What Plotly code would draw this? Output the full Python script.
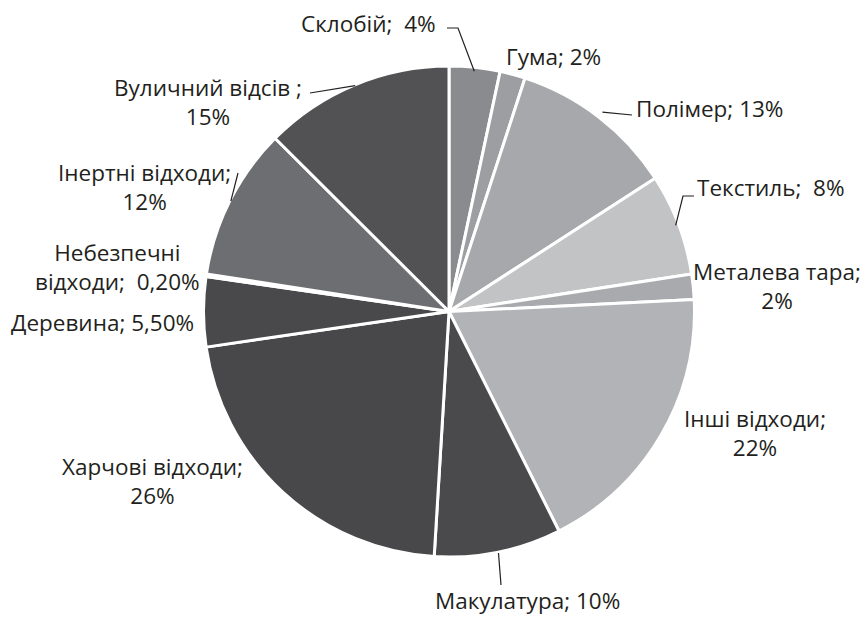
import math
import plotly.graph_objects as go

# ---- data ----
categories = ["Склобій", "Гума", "Полімер", "Текстиль", "Металева тара",
              "Інші відходи", "Макулатура", "Харчові відходи", "Деревина",
              "Небезпечні відходи", "Інертні відходи", "Вуличний відсів"]
values = [4, 2, 13, 8, 2, 22, 10, 26, 5.5, 0.2, 12, 15]
label_texts = ["Склобій;  4%", "Гума; 2%", "Полімер; 13%", "Текстиль;  8%",
               "Металева тара;<br>2%", "Інші відходи;<br>22%", "Макулатура; 10%",
               "Харчові відходи;<br>26%", "Деревина; 5,50%",
               "Небезпечні<br>відходи;  0,20%", "Інертні відходи;<br>12%",
               "Вуличний відсів ;<br>15%"]

# ---- style ----
colors = ["#8a8b8e", "#9d9ea1", "#a7a8ab", "#c2c3c5", "#a9aaad", "#b2b3b6",
          "#4a4a4c", "#48484a", "#49494b", "#bcbdc0", "#6d6e71", "#525254"]
W, H = 862, 620
CX, CY, R = 449, 311.5, 243.5
R_DOMAIN = 245.5
# label centre positions (px)
label_pos = [(368, 23), (553, 56), (709, 108), (771, 187), (777, 286),
             (755, 433), (527, 600), (152, 481), (102, 322), (117, 267),
             (144, 187), (208, 102)]
# leader lines: index -> list of (px) points after slice-edge point
leaders = {0: [(458, 28), (447, 28)],
           2: [(632, 115)],
           3: [(683, 196), (694, 196)],
           6: [(501, 585)],
           10: [(238, 173)],
           11: [(310, 93)]}
leader_gap = {0: -2, 2: 8, 3: -1, 6: 3, 10: 1, 11: 1}

total = sum(values)
def edge_point(i, extra):
    before = sum(values[:i])
    ang = (before + values[i] / 2) / total * 2 * math.pi
    r = R + extra
    return (CX + r * math.sin(ang), CY - r * math.cos(ang))

def px(x):
    return x / W
def py(y):
    return 1 - y / H

fig = go.Figure(go.Pie(
    labels=categories, values=values, sort=False, direction="clockwise",
    rotation=0, textinfo="none", hoverinfo="label+value",
    marker=dict(colors=colors, line=dict(color="white", width=3)),
    domain=dict(x=[px(CX - R_DOMAIN), px(CX + R_DOMAIN)],
                y=[py(CY + R_DOMAIN), py(CY - R_DOMAIN)]),
    showlegend=False,
))

for i, t in enumerate(label_texts):
    x, y = label_pos[i]
    fig.add_annotation(x=px(x), y=py(y), xref="paper", yref="paper",
                       text=t, showarrow=False, align="center",
                       xanchor="center", yanchor="middle",
                       font=dict(family="Open Sans", size=22.5, color="#231f20"))

for i, pts in leaders.items():
    p0 = edge_point(i, leader_gap[i])
    allp = [p0] + pts
    path = "M " + " L ".join(f"{px(a):.5f},{py(b):.5f}" for a, b in allp)
    fig.add_shape(type="path", path=path, xref="paper", yref="paper",
                  line=dict(color="#231f20", width=1.2))

fig.update_layout(width=W, height=H, margin=dict(l=0, r=0, t=0, b=0),
                  paper_bgcolor="white", plot_bgcolor="white")
fig.write_html("out.html", config={"displayModeBar": False},
               post_script="document.body.style.margin='0';")
